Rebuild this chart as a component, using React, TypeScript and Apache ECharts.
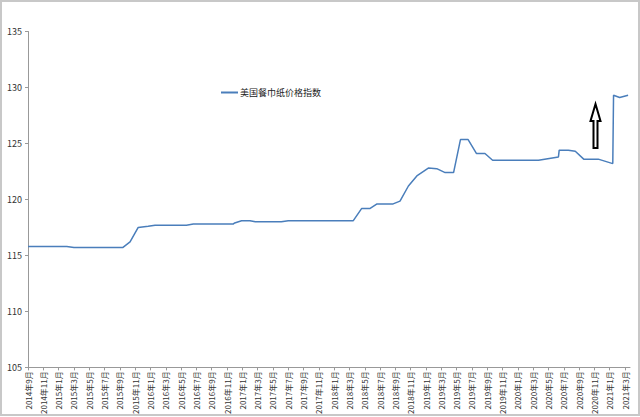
import React, { useEffect, useRef } from "react";
import * as echarts from "echarts";

const seriesName = "美国餐巾纸价格指数";

const dates = [
  "2014-09-01", "2015-02-03", "2015-03-01", "2015-09-12", "2015-10-11", "2015-11-13",
  "2015-12-22", "2016-01-19", "2016-05-22", "2016-06-19", "2016-11-25", "2016-12-01",
  "2016-12-28", "2017-02-01", "2017-02-22", "2017-06-04", "2017-07-01", "2018-03-16",
  "2018-04-19", "2018-05-22", "2018-06-19", "2018-08-22", "2018-09-19", "2018-10-22",
  "2018-11-25", "2019-01-10", "2019-02-13", "2019-03-16", "2019-04-19", "2019-05-16",
  "2019-06-16", "2019-07-19", "2019-08-22", "2019-09-22", "2020-03-22", "2020-06-10",
  "2020-06-13", "2020-07-19", "2020-08-16", "2020-09-19", "2020-11-16", "2021-01-13",
  "2021-01-16", "2021-02-10", "2021-03-13",
];
const values = [
  115.8, 115.8, 115.7, 115.7, 116.2, 117.5,
  117.6, 117.7, 117.7, 117.8, 117.8, 117.9,
  118.1, 118.1, 118.0, 118.0, 118.1, 118.1,
  119.2, 119.2, 119.6, 119.6, 119.85, 121.2,
  122.1, 122.8, 122.75, 122.4, 122.4, 125.35,
  125.35, 124.1, 124.1, 123.5, 123.5, 123.8,
  124.4, 124.4, 124.3, 123.6, 123.6, 123.2,
  129.3, 129.1, 129.3,
];

const tickLabels = [
  "2014年9月", "2014年11月", "2015年1月", "2015年3月", "2015年5月", "2015年7月",
  "2015年9月", "2015年11月", "2016年1月", "2016年3月", "2016年5月", "2016年7月",
  "2016年9月", "2016年11月", "2017年1月", "2017年3月", "2017年5月", "2017年7月",
  "2017年9月", "2017年11月", "2018年1月", "2018年3月", "2018年5月", "2018年7月",
  "2018年9月", "2018年11月", "2019年1月", "2019年3月", "2019年5月", "2019年7月",
  "2019年9月", "2019年11月", "2020年1月", "2020年3月", "2020年5月", "2020年7月",
  "2020年9月", "2020年11月", "2021年1月", "2021年3月",
];

const yTicks = { min: 105, max: 135, step: 5 };

function monthOffset(d: string): number {
  const [y, m, day] = d.split("-").map(Number);
  return (y - 2014) * 12 + (m - 9) + (day - 1) / 30;
}

export default function App() {
  const ref = useRef<HTMLDivElement>(null);
  useEffect(() => {
    document.body.style.margin = "0";
    const chart = echarts.init(ref.current!, undefined, { renderer: "svg" });
    const data = dates.map((d, i) => [monthOffset(d), values[i]]);
    chart.setOption({
      animation: false,
      backgroundColor: "#ffffff",
      textStyle: { fontFamily: "'Noto Sans CJK SC', 'DejaVu Sans', sans-serif" },
      grid: { left: 28, right: 10, top: 31.5, bottom: 48, containLabel: false },
      legend: {
        data: [seriesName],
        left: 221,
        top: 88,
        padding: 0,
        icon: "rect",
        itemWidth: 17,
        itemHeight: 2,
        itemGap: 0,
        textStyle: { fontSize: 9, color: "#222", padding: [0, 0, 0, -3] },
      },
      xAxis: {
        type: "value",
        min: 0,
        max: 78.65,
        interval: 2,
        splitLine: { show: false },
        axisLine: { show: true, lineStyle: { color: "#999", width: 1 } },
        axisTick: { show: true, length: 3, lineStyle: { color: "#999" } },
        axisLabel: {
          rotate: 90,
          fontSize: 8,
          color: "#333",
          margin: 4,
          showMaxLabel: false,
          formatter: (v: number) => {
            const idx = Math.round(v / 2);
            if (Math.abs(v - idx * 2) > 1e-6) return "";
            return tickLabels[idx] ?? "";
          },
        },
      },
      yAxis: {
        type: "value",
        min: yTicks.min,
        max: yTicks.max,
        interval: yTicks.step,
        splitLine: { show: false },
        axisLine: { show: true, lineStyle: { color: "#999", width: 1 } },
        axisTick: { show: true, length: 3, lineStyle: { color: "#999" } },
        axisLabel: { fontSize: 9, color: "#333", margin: 6 },
      },
      series: [
        {
          name: seriesName,
          type: "line",
          data,
          showSymbol: false,
          symbol: "none",
          lineStyle: { color: "#4a7ebb", width: 1.5 },
          itemStyle: { color: "#4a7ebb" },
        },
      ],
      graphic: [
        {
          type: "rect",
          shape: { x: 1, y: 1, width: 638, height: 414 },
          style: { fill: "none", stroke: "#c8c8c8", lineWidth: 2 },
          silent: true,
        },
        {
          type: "polygon",
          shape: {
            points: [
              [595.5, 104],
              [600.5, 121],
              [597.5, 121],
              [597.5, 148],
              [593.5, 148],
              [593.5, 121],
              [590.5, 121],
            ],
          },
          style: { fill: "#ffffff", stroke: "#000000", lineWidth: 2, lineJoin: "miter" },
          silent: true,
        },
      ],
    });
    return () => chart.dispose();
  }, []);
  return <div ref={ref} style={{ width: 640, height: 417, position: "absolute", left: 0, top: 0 }} />;
}
